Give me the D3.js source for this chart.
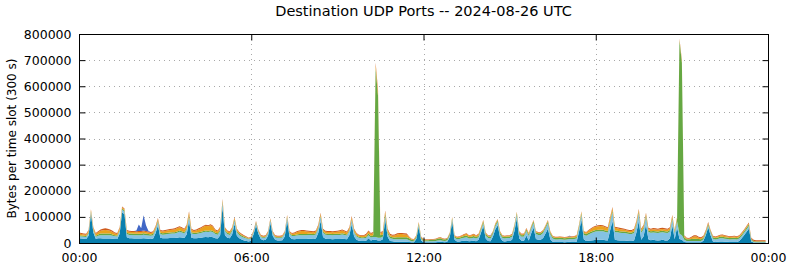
<!DOCTYPE html>
<html>
<head>
<meta charset="utf-8">
<script src="https://cdn.jsdelivr.net/npm/d3@7"></script>
<style>
  body { margin: 0; background: #fff; }
  svg { display: block; font-family: "DejaVu Sans", sans-serif; }
</style>
</head>
<body>
<svg id="chart" width="790" height="267"></svg>
<script>
// kB per 300 s slot, 288 slots, one row per hour (00h .. 23h)
const seriesA = [
  18,17,16,15,28,110,40,16,18,18,17,17,
  17,17,16,15,15,35,118,110,22,18,18,17,
  17,17,17,18,17,16,15,17,37,68,20,18,
  18,18,19,19,19,20,22,21,19,33,85,20,
  18,18,19,20,22,23,22,24,22,18,17,30,
  138,30,20,18,33,73,28,18,13,10,8,6,
  10,34,68,34,15,11,12,27,77,27,12,10,
  10,11,25,86,24,15,14,15,15,15,15,15,
  16,16,15,17,38,84,23,16,15,15,14,15,
  15,15,16,15,14,30,72,25,12,9,8,8,
  9,18,10,12,12,10,10,14,90,24,8,7,
  5,5,5,5,5,5,4,3,3,15,62,10,
  3,3,3,3,3,3,4,5,4,3,6,23,
  82,12,6,6,8,9,10,7,8,9,7,12,
  38,65,17,8,7,24,52,68,22,8,6,8,
  8,12,45,94,18,9,9,29,10,36,59,15,
  12,12,19,36,55,14,5,4,4,4,4,3,
  4,5,4,4,5,42,90,14,8,9,10,11,
  12,12,12,12,11,10,48,84,12,11,10,10,
  10,9,8,8,10,40,84,12,26,72,14,11,
  12,11,10,11,12,10,10,18,68,14,60,15,
  12,4,3,3,3,3,3,3,3,9,30,60,
  30,6,4,5,6,6,5,5,4,4,4,4,
  8,18,30,42,55,6,2,2,2,2,2,2
];
const seriesB = [
  8,8,8,8,8,8,8,8,10,12,13,13,
  13,13,12,11,10,10,10,10,12,13,13,13,
  13,13,13,14,13,13,13,13,13,13,14,14,
  15,16,16,17,17,19,21,19,17,17,17,16,
  16,16,17,18,19,20,20,20,19,16,15,16,
  16,16,14,13,13,13,13,12,11,10,9,8,
  7,8,8,8,8,8,9,9,9,9,9,9,
  9,10,11,11,11,12,13,14,15,15,15,15,
  15,15,15,16,17,17,17,16,16,16,16,16,
  16,16,17,16,15,15,16,15,13,11,10,10,
  10,12,11,11,11,10,10,10,13,12,10,9,
  9,9,9,9,9,9,7,4,4,5,8,5,
  4,4,4,4,4,5,6,6,5,5,5,8,
  8,8,8,9,10,11,12,10,10,11,10,10,
  10,11,11,11,10,10,11,12,11,11,11,11,
  11,12,13,14,15,15,16,17,17,18,18,19,
  19,19,19,20,21,19,12,9,9,10,9,9,
  9,10,10,11,12,15,18,18,20,24,27,30,
  32,33,33,33,31,30,32,34,30,30,29,28,
  28,27,26,26,28,28,30,27,27,28,28,28,
  28,28,28,29,29,29,28,26,23,22,22,20,
  18,8,5,5,5,5,5,5,5,5,6,7,
  10,10,9,10,12,12,11,10,9,10,10,9,
  9,9,9,10,10,5,2,1,1,1,1,1
];
const seriesD = [
  4,4,4,4,4,4,4,4,5,6,6,6,
  6,6,5,4,4,4,4,4,5,5,5,5,
  5,5,5,5,5,5,5,5,5,5,5,5,
  5,5,5,5,5,5,5,5,5,5,5,5,
  5,5,5,5,5,5,5,5,5,5,5,5,
  5,5,5,5,5,5,5,5,5,4,3,2,
  3,3,3,3,3,3,3,3,3,3,3,3,
  3,3,3,3,3,4,4,4,4,4,4,4,
  4,4,4,4,4,4,4,4,4,4,4,4,
  4,4,4,4,4,4,4,4,4,4,4,4,
  5,6,6,7,645,542,10,9,9,8,7,6,
  7,8,8,8,8,8,7,5,4,5,5,5,
  4,4,4,5,5,5,6,7,5,5,5,5,
  5,5,5,5,6,7,7,6,6,7,6,6,
  6,6,6,6,6,6,6,6,6,6,6,6,
  6,6,6,6,6,6,6,6,6,6,6,6,
  6,6,6,6,6,6,6,6,6,6,6,6,
  6,6,6,6,6,6,6,6,6,6,6,6,
  6,6,6,6,6,6,6,6,6,6,6,6,
  6,6,6,6,6,6,6,6,6,6,6,6,
  6,6,6,6,6,6,6,6,6,6,10,740,
  660,10,6,6,7,8,8,7,6,6,6,6,
  5,6,6,6,6,6,6,6,6,6,6,6,
  6,6,6,6,6,4,3,3,3,3,3,3
];
const seriesE = [
  6,5,5,5,6,4,5,6,8,11,13,14,
  13,11,9,6,5,7,5,5,7,7,6,7,
  6,7,7,7,7,6,5,6,6,6,7,7,
  8,9,10,10,11,12,12,11,10,11,11,10,
  7,9,11,13,16,18,17,19,16,9,7,7,
  6,6,6,6,6,6,6,4,3,3,2,2,
  2,2,2,2,3,3,3,3,3,3,3,3,
  3,3,3,4,4,4,5,8,10,12,12,10,
  8,7,7,7,7,7,7,7,7,7,7,7,
  8,10,11,9,7,7,7,7,6,5,5,5,
  7,8,7,8,13,15,8,8,8,7,6,6,
  8,11,12,12,11,10,5,2,2,3,3,3,
  2,1,1,1,1,1,2,3,2,1,2,2,
  3,3,3,4,4,5,6,5,6,6,5,5,
  4,4,4,3,3,3,4,4,4,3,3,3,
  3,3,4,4,4,3,3,3,3,3,3,3,
  3,3,4,4,4,4,3,3,3,3,3,3,
  3,3,4,4,5,5,6,5,6,8,10,12,
  12,13,14,13,12,10,10,10,10,9,9,8,
  7,6,6,6,7,7,6,6,7,6,6,6,
  7,7,7,7,7,7,7,6,6,5,5,4,
  6,4,3,2,5,9,9,5,4,4,4,4,
  2,3,3,4,5,6,5,4,4,4,5,4,
  4,4,4,4,4,2,1,1,1,1,1,1
];
const seriesF = [
  4,4,3,3,4,3,3,4,4,5,6,6,
  6,5,5,4,4,4,3,3,4,4,4,4,
  4,4,4,4,4,4,4,4,4,4,4,4,
  4,4,4,4,4,4,4,4,4,4,4,4,
  4,4,4,4,4,4,4,4,4,4,4,4,
  3,3,3,3,3,3,3,3,3,3,3,2,
  3,3,3,3,3,3,3,3,3,3,3,3,
  3,3,3,3,3,3,4,4,4,4,4,4,
  4,4,4,4,4,4,4,4,4,4,4,4,
  4,4,4,4,4,4,4,4,3,3,3,3,
  4,4,4,4,9,8,4,4,4,4,4,4,
  4,4,4,4,4,4,2,2,2,2,2,2,
  2,2,2,2,2,2,2,2,2,2,2,2,
  2,2,2,2,2,2,2,2,2,2,2,2,
  2,2,2,2,2,2,2,2,2,2,2,2,
  2,2,2,2,2,2,2,2,2,2,2,2,
  2,2,2,2,2,2,2,2,2,2,2,2,
  2,2,2,2,2,2,2,2,2,3,3,3,
  4,4,4,4,4,4,4,4,4,4,4,4,
  4,4,4,4,4,4,4,4,4,4,4,4,
  4,4,4,4,4,4,4,4,4,3,3,4,
  4,4,3,3,4,5,5,4,4,4,4,3,
  3,3,3,3,3,3,3,3,3,3,3,3,
  3,3,3,3,3,3,4,4,4,4,4,4
];
const seriesH = [
  0,0,0,0,0,0,0,0,0,0,0,0,
  0,0,0,0,0,0,0,0,0,0,0,0,
  3,25,10,58,22,3,0,0,0,0,0,0,
  0,0,0,0,0,0,0,0,0,0,0,0,
  0,0,0,0,0,0,0,0,0,0,0,0,
  0,0,0,0,0,0,0,0,0,0,0,0,
  0,0,0,0,0,0,0,0,0,0,0,0,
  0,0,0,0,0,0,0,0,0,0,0,0,
  0,0,0,0,0,0,0,0,0,0,0,0,
  0,0,0,0,0,0,0,0,0,0,0,0,
  0,0,0,0,0,0,0,0,0,0,0,0,
  0,0,0,0,0,0,0,0,0,0,0,0,
  0,0,0,0,0,0,0,0,0,0,0,0,
  0,0,0,0,0,0,0,0,0,0,0,0,
  0,0,0,0,2,0,0,0,0,0,0,0,
  0,0,0,0,0,0,0,0,0,0,0,0,
  0,0,0,0,0,0,0,0,0,0,0,0,
  0,2,0,0,0,0,0,0,0,0,0,0,
  0,0,0,0,0,0,0,0,0,0,0,0,
  0,0,0,0,0,0,0,0,0,0,0,0,
  0,0,0,0,0,0,0,0,0,0,0,0,
  0,0,0,0,0,0,0,0,0,0,0,0,
  0,0,0,0,0,0,0,0,0,0,0,0,
  0,0,0,0,0,0,0,0,0,0,0,0
];

const seriesKeys = ['A', 'B', 'D', 'E', 'F', 'H'];
const seriesColors = ['#0a7fae', '#84c2e3', '#65a843', '#eaa21c', '#cf5a1c', '#4167c6'];
const timeTicks = [0, 72, 144, 216, 288];
const timeLabels = ['00:00', '06:00', '12:00', '18:00', '00:00'];
const yTicks = [0, 100000, 200000, 300000, 400000, 500000, 600000, 700000, 800000];

const margin = { left: 79, right: 768, top: 34, bottom: 243 };
const svg = d3.select('#chart');

const x = d3.scaleLinear().domain([0, 288]).range([margin.left, margin.right]);
const y = d3.scaleLinear().domain([0, 800000]).range([margin.bottom, margin.top]);

// build the table for d3.stack (kB -> bytes)
const src = { A: seriesA, B: seriesB, D: seriesD, E: seriesE, F: seriesF, H: seriesH };
const rows = seriesA.map((_, i) => {
  const r = { slot: i };
  seriesKeys.forEach(k => { r[k] = src[k][i] * 1000; });
  return r;
});
const stacked = d3.stack().keys(seriesKeys)(rows);

// grid
const grid = svg.append('g')
  .attr('stroke', '#a8a8a8')
  .attr('stroke-width', 1)
  .attr('stroke-dasharray', '1,4');
yTicks.slice(1, -1).forEach(v => {
  grid.append('line')
    .attr('x1', margin.left).attr('x2', margin.right)
    .attr('y1', Math.round(y(v)) + 0.5).attr('y2', Math.round(y(v)) + 0.5);
});
timeTicks.slice(1, -1).forEach(v => {
  grid.append('line')
    .attr('x1', Math.round(x(v)) + 0.5).attr('x2', Math.round(x(v)) + 0.5)
    .attr('y1', margin.top).attr('y2', margin.bottom);
});

// stacked areas
const area = d3.area()
  .x(d => x(d.data.slot))
  .y0(d => y(d[0]))
  .y1(d => y(d[1]));

svg.append('g')
  .selectAll('path')
  .data(stacked)
  .join('path')
  .attr('fill', (d, i) => seriesColors[i])
  .attr('d', area);

// axes (ticks pointing inwards, mirrored)
const fmt = d3.format('d');
const yAxisL = svg.append('g')
  .attr('transform', `translate(${margin.left + 0.5},0)`)
  .call(d3.axisLeft(y).tickValues(yTicks).tickSize(-6).tickPadding(8).tickFormat(fmt));
const yAxisR = svg.append('g')
  .attr('transform', `translate(${margin.right + 0.5},0)`)
  .call(d3.axisRight(y).tickValues(yTicks).tickSize(-6).tickFormat(''));
const xAxisB = svg.append('g')
  .attr('transform', `translate(0,${margin.bottom + 0.5})`)
  .call(d3.axisBottom(x).tickValues(timeTicks).tickSize(-6).tickPadding(10)
    .tickFormat((d, i) => timeLabels[i]));
const xAxisT = svg.append('g')
  .attr('transform', `translate(0,${margin.top + 0.5})`)
  .call(d3.axisTop(x).tickValues(timeTicks).tickSize(-6).tickFormat(''));

[yAxisL, yAxisR, xAxisB, xAxisT].forEach(g => {
  g.select('.domain').remove();
  g.selectAll('line').attr('stroke', '#000');
  g.selectAll('text')
    .attr('fill', '#000')
    .style('font-family', '"DejaVu Sans", sans-serif')
    .style('font-size', '12.5px');
});

// frame
svg.append('rect')
  .attr('x', margin.left + 0.5).attr('y', margin.top + 0.5)
  .attr('width', margin.right - margin.left).attr('height', margin.bottom - margin.top)
  .attr('fill', 'none').attr('stroke', '#000').attr('stroke-width', 1);

// title + y label
svg.append('text')
  .attr('x', (margin.left + margin.right) / 2).attr('y', 16)
  .attr('text-anchor', 'middle')
  .style('font-size', '14.5px')
  .text('Destination UDP Ports -- 2024-08-26 UTC');

svg.append('text')
  .attr('transform', `translate(16,${(margin.top + margin.bottom) / 2}) rotate(-90)`)
  .attr('text-anchor', 'middle')
  .style('font-size', '12px')
  .text('Bytes per time slot (300 s)');
</script>
</body>
</html>
